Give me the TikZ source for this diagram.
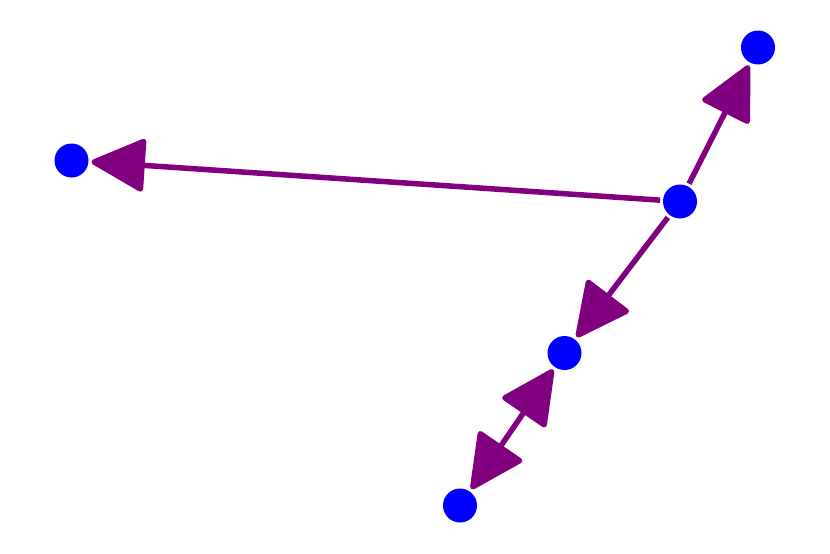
\documentclass[tikz,border=0pt]{standalone}
\usetikzlibrary{arrows.meta,backgrounds}
\definecolor{edgepurple}{HTML}{800080}
\definecolor{nodeblue}{HTML}{0000FF}
\begin{document}
\begin{tikzpicture}[x=1pt,y=-1pt,
  vertex/.style={circle,fill=nodeblue,draw=none,minimum size=34pt,inner sep=0pt,outer sep=3pt},
  link/.style={draw=edgepurple,line width=5.5pt,
    -{Triangle[length=57pt,width=55pt,round]}},
  duallink/.style={draw=edgepurple,line width=5.5pt,
    {Triangle[length=57pt,width=55pt,round]}-{Triangle[length=57pt,width=55pt,round]}}]
\useasboundingbox (0,0) rectangle (830,554);
\node[vertex] (a) at (758,47.5) {};
\node[vertex] (b) at (71.5,160.5) {};
\node[vertex] (c) at (680,201.5) {};
\node[vertex] (d) at (564.5,353) {};
\node[vertex] (e) at (460,505.5) {};
\begin{pgfonlayer}{background}
\draw[link] (c) -- (a);
\draw[link] (c) -- (b);
\draw[link] (c) -- (d);
\draw[duallink] (d) -- (e);
\end{pgfonlayer}
\end{tikzpicture}
\end{document}
